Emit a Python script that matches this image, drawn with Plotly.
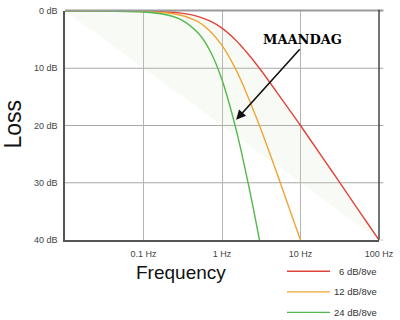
import plotly.graph_objects as go

# Frequency (Hz) sample points and loss (dB)
freq_red = [0.01, 0.1, 0.2, 0.3, 0.5, 0.7, 1, 1.5, 2, 3, 5, 7, 10, 20, 30, 50, 70, 100]
loss_red = [0.0, 0.04, 0.17, 0.37, 0.97, 1.73, 3.0, 5.1, 7.0, 10.0, 14.2, 17.0, 20.0, 26.0, 29.5, 34.0, 36.9, 40.0]

freq_orange = [0.01, 0.1, 0.2, 0.3, 0.5, 0.7, 1, 1.5, 2, 3, 5, 7, 10]
loss_orange = [0.0, 0.09, 0.34, 0.75, 1.9, 3.5, 6.0, 10.2, 14.0, 20.0, 28.3, 34.0, 40.0]

freq_green = [0.01, 0.1, 0.2, 0.3, 0.5, 0.7, 1, 1.5, 2, 2.5, 3]
loss_green = [0.0, 0.17, 0.7, 1.5, 3.9, 6.9, 12.0, 20.5, 28.0, 34.4, 40.0]

# Diagonal edge of the shaded area
diag_freq = [0.01, 100]
diag_loss = [0, 40]

series_names = ["6 dB/8ve", "12 dB/8ve", "24 dB/8ve"]
series_colors = ["#e0443a", "#f0a436", "#52b84c"]

x_tickvals = [0.1, 1, 10, 100]
x_ticktext = ["0.1 Hz", "1 Hz", "10 Hz", "100 Hz"]
y_tickvals = [0, 10, 20, 30, 40]
y_ticktext = ["0 dB", "10 dB", "20 dB", "30 dB", "40 dB"]

fig = go.Figure()

# shaded band between diagonal and red curve
fig.add_trace(go.Scatter(
    x=diag_freq + freq_red[::-1], y=diag_loss + loss_red[::-1],
    fill="toself", fillcolor="rgba(205,230,190,0.15)", line=dict(width=0),
    mode="lines", hoverinfo="skip", showlegend=False))

for fx, ly, name, col in zip([freq_red, freq_orange, freq_green],
                             [loss_red, loss_orange, loss_green],
                             series_names, series_colors):
    fig.add_trace(go.Scatter(x=fx, y=ly, mode="lines", name=name,
                             line=dict(color=col, width=1.4, shape="spline"),
                             showlegend=False))

# grid lines extending slightly beyond right border
shapes = []
for v in [10, 20, 30]:
    shapes.append(dict(type="line", xref="paper", yref="y", x0=0, x1=1.014, y0=v, y1=v,
                       line=dict(color="#a8a8a8", width=1), layer="below"))
# top border (gray), right border (dark)
shapes.append(dict(type="line", xref="paper", yref="paper", x0=0, x1=1.014, y0=1.002, y1=1.002,
                   line=dict(color="#9a9a9a", width=2)))
shapes.append(dict(type="line", xref="paper", yref="paper", x0=1, x1=1, y0=0, y1=1.006,
                   line=dict(color="#444444", width=1.5)))
shapes.append(dict(type="line", xref="paper", yref="paper", x0=1, x1=1.014, y0=0, y1=0,
                   line=dict(color="#cccccc", width=1)))

annotations = []
# legend drawn manually
leg_y = [272, 293, 314]
for i, (name, col) in enumerate(zip(series_names, series_colors)):
    yp = 1 - (leg_y[i] - 6) / 234
    shapes.append(dict(type="line", xref="paper", yref="paper",
                       x0=(287 - 65) / 314, x1=(330 - 65) / 314, y0=yp, y1=yp,
                       line=dict(color=col, width=1.4)))
    annotations.append(dict(xref="paper", yref="paper", x=(379 - 65) / 314, y=yp,
                            text=name, showarrow=False, xanchor="right", yanchor="middle",
                            font=dict(family="Liberation Sans", size=9.5, color="#333")))

# axis titles
annotations.append(dict(xref="paper", yref="paper", x=(181 - 65) / 314, y=1 - (273 - 6) / 234,
                        text="Frequency", showarrow=False, xanchor="center", yanchor="middle",
                        font=dict(family="Liberation Sans", size=19, color="#111")))
annotations.append(dict(xref="paper", yref="paper", x=(13 - 65) / 314, y=1 - (122 - 6) / 234,
                        text="Loss", showarrow=False, xanchor="center", yanchor="middle",
                        textangle=-90, font=dict(family="Liberation Sans", size=23, color="#111")))

# MAANDAG annotation with arrow
annotations.append(dict(x=0.18, y=19, xref="x", yref="y", ax=65, ay=-72,
                        text="", showarrow=True, arrowhead=2, arrowsize=1.2,
                        arrowwidth=1.6, arrowcolor="#111"))
annotations.append(dict(xref="paper", yref="paper", x=(302 - 65) / 314, y=1 - (35 - 6) / 234,
                        text="<b>MAANDAG</b>", showarrow=False, xanchor="center", yanchor="middle",
                        font=dict(family="DejaVu Serif", size=13, color="#000")))

fig.update_layout(
    width=400, height=320, margin=dict(l=65, r=21, t=6, b=80),
    plot_bgcolor="white", paper_bgcolor="white",
    shapes=shapes, annotations=annotations,
    xaxis=dict(type="log", range=[-2, 2], tickvals=x_tickvals, ticktext=x_ticktext,
               showgrid=True, gridcolor="#b4b4b4", gridwidth=1,
               showline=True, linecolor="#555", linewidth=1.5,
               ticks="outside", ticklen=4, tickcolor="rgba(0,0,0,0)",
               tickfont=dict(family="Liberation Sans", size=9, color="#444"),
               zeroline=False),
    yaxis=dict(range=[40, 0], tickvals=y_tickvals, ticktext=y_ticktext,
               showgrid=False, showline=True, linecolor="#555", linewidth=1.5,
               ticks="outside", ticklen=4, tickcolor="rgba(0,0,0,0)",
               tickfont=dict(family="Liberation Sans", size=9, color="#444"),
               zeroline=False),
    showlegend=False,
)

fig.write_html("out.html")
